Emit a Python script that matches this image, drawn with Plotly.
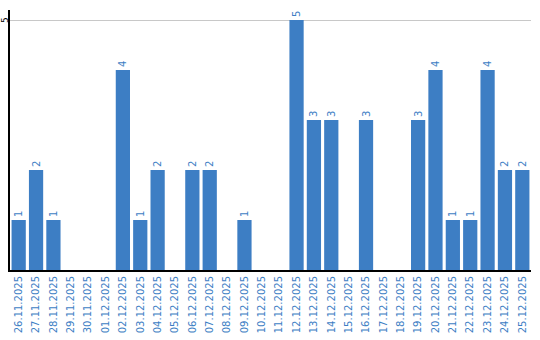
import plotly.graph_objects as go

dates = ["26.11.2025","27.11.2025","28.11.2025","29.11.2025","30.11.2025","01.12.2025",
         "02.12.2025","03.12.2025","04.12.2025","05.12.2025","06.12.2025","07.12.2025",
         "08.12.2025","09.12.2025","10.12.2025","11.12.2025","12.12.2025","13.12.2025",
         "14.12.2025","15.12.2025","16.12.2025","17.12.2025","18.12.2025","19.12.2025",
         "20.12.2025","21.12.2025","22.12.2025","23.12.2025","24.12.2025","25.12.2025"]
values = [1,2,1,0,0,0,4,1,2,0,2,2,0,1,0,0,5,3,3,0,3,0,0,3,4,1,1,4,2,2]
labels = [str(v) if v > 0 else "" for v in values]
ytick = 5

blue = "#3d7ec4"
fig = go.Figure(go.Bar(
    x=dates, y=values, text=labels, textposition="outside", textangle=-90,
    textfont=dict(color=blue, size=10, family="DejaVu Sans"),
    marker=dict(color=blue, line=dict(width=0)), cliponaxis=False,
))
fig.update_layout(
    width=540, height=340, margin=dict(l=10, r=9, t=10, b=70),
    paper_bgcolor="white", plot_bgcolor="white", bargap=0.18,
    showlegend=False,
    xaxis=dict(type="category", tickangle=-90, showgrid=False, showline=True,
               linecolor="black", linewidth=2, ticks="", automargin=False,
               tickfont=dict(color=blue, size=10, family="DejaVu Sans")),
    yaxis=dict(range=[0, 5.2], tickvals=[ytick], showticklabels=False, showgrid=True,
               gridcolor="#c8c8c8", gridwidth=1, showline=True, linecolor="black",
               linewidth=2, ticks="", zeroline=False, automargin=False),
)
fig.add_annotation(x=0, xref="paper", y=ytick, yref="y", text=str(ytick), showarrow=False,
                   textangle=-90, xanchor="center", yanchor="middle", xshift=-5,
                   font=dict(color="black", size=9, family="DejaVu Sans"))
fig.write_html("out.html")
